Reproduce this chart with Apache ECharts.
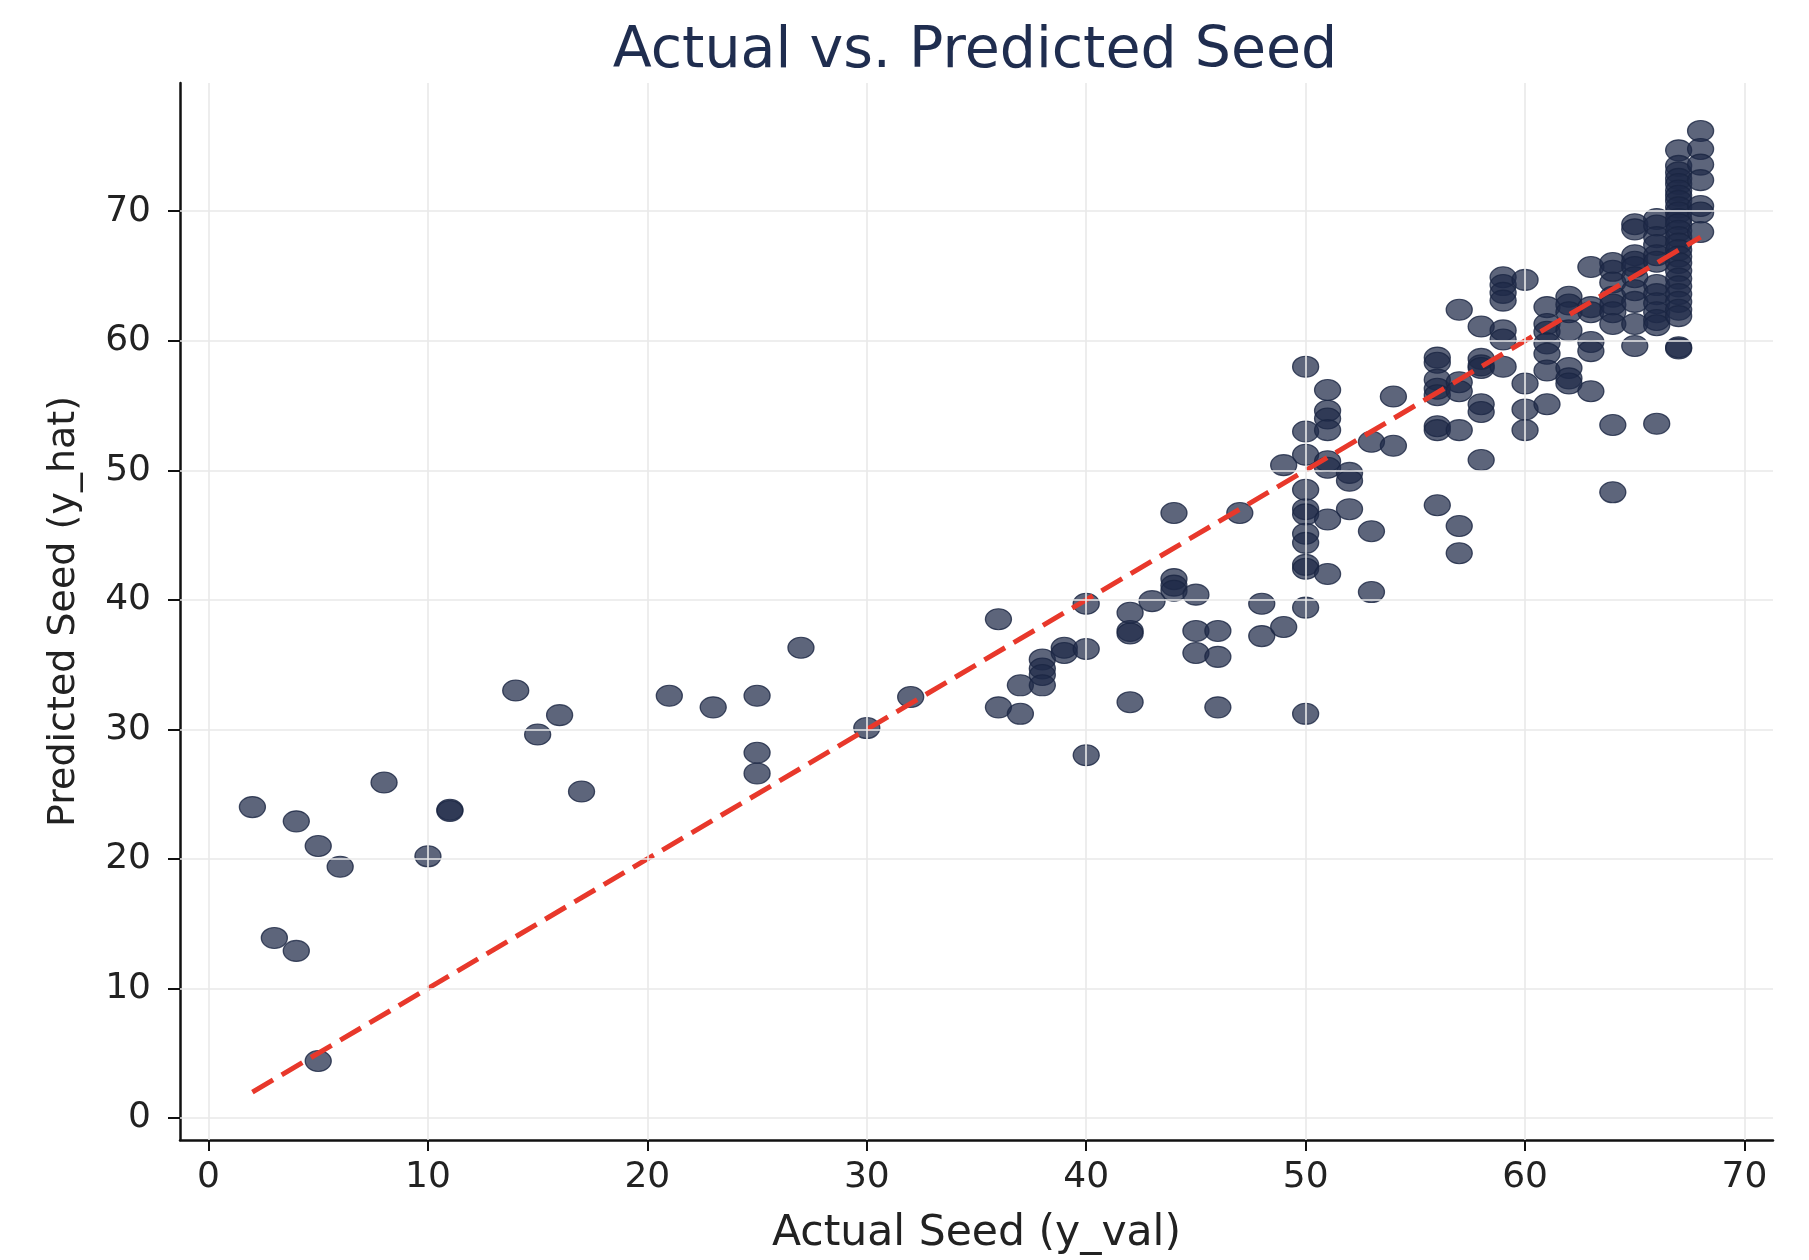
<!DOCTYPE html>
<html>
<head>
<meta charset="utf-8">
<script src="https://cdn.jsdelivr.net/npm/echarts@6/dist/echarts.min.js"></script>
<style>html,body{margin:0;padding:0;background:#fff;}#c{width:1809px;height:1260px;}</style>
</head>
<body>
<div id="c"></div>
<script>
// Actual seed (x) values, one per point
const actualVals = [
  2,3,4,4,5,5,6,8,10,11,11,14,15,16,17,21,23,25,25,25,27,30,32,
  36,36,37,37,38,38,38,38,39,39,40,40,40,42,42,42,42,43,44,44,44,44,45,45,45,46,46,46,47,48,48,49,49,
  50,50,50,50,50,50,50,50,50,50,50,50,
  51,51,51,51,51,51,51,51,
  52,52,52,
  53,53,53,
  54,54,
  56,56,56,56,56,56,56,56,
  57,57,57,57,57,57,
  58,58,58,58,58,58,58,
  59,59,59,59,59,59,59,
  60,60,60,60,
  61,61,61,61,61,61,61,
  62,62,62,62,62,62,62,
  63,63,63,63,63,63,
  64,64,64,64,64,64,64,64,64,
  65,65,65,65,65,65,65,65,65,65,
  66,66,66,66,66,66,66,66,66,66,66,66,66,
  67,67,67,67,67,67,67,67,67,67,67,67,67,67,67,67,67,67,67,67,67,67,67,67,67,67,67,
  68,68,68,68,68,68,68
];
// Predicted seed (y) values, same order
const predictedVals = [
  24.0,13.9,22.9,12.9,21.0,4.4,19.4,25.9,20.2,23.8,23.7,33.0,29.6,31.1,25.2,32.6,31.7,32.6,28.2,26.6,36.3,30.1,32.5,
  38.5,31.7,33.4,31.2,35.4,34.7,34.2,33.4,36.3,35.9,39.7,36.2,28.0,39.0,37.6,37.4,32.1,39.9,46.7,41.6,41.1,40.7,40.4,37.6,35.9,37.6,35.6,31.7,46.7,39.7,37.2,50.4,37.9,
  58.0,53.0,51.2,48.5,47.0,46.6,45.1,44.4,42.7,42.4,39.4,31.2,
  56.2,54.6,54.0,53.1,50.7,50.2,46.2,42.0,
  49.8,49.2,47.0,
  52.2,45.3,40.6,
  55.7,51.9,
  58.7,58.3,57.0,56.3,55.8,53.4,53.1,47.3,
  62.4,56.8,56.1,53.1,45.7,43.6,
  61.1,58.6,58.1,57.9,55.1,54.5,50.8,
  64.9,64.3,63.7,63.1,60.8,60.1,58.0,
  64.7,56.7,54.7,53.1,
  62.6,61.3,60.7,59.8,59.0,57.7,55.1,
  63.4,62.8,62.2,60.8,57.9,57.1,56.7,
  65.7,62.6,62.2,59.9,59.2,56.1,
  66.0,65.4,64.5,63.4,62.8,62.2,61.3,53.5,48.3,
  69.0,68.6,66.6,66.1,65.7,64.9,63.9,63.0,61.3,59.6,
  69.4,68.9,68.0,67.4,66.6,66.1,64.3,63.6,62.9,62.2,61.6,61.2,53.6,
  74.7,73.5,73.0,72.5,72.1,71.6,71.2,70.8,70.3,69.9,69.4,69.0,68.5,68.0,67.5,67.0,66.5,66.0,65.4,64.8,64.2,63.6,63.0,62.4,61.9,59.5,59.4,
  76.2,74.8,73.6,72.4,70.4,69.9,68.4
];
// Reference (perfect prediction) line endpoints
const refLine = [2, 68];
// Tick labels
const xTicks = [0, 10, 20, 30, 40, 50, 60, 70];
const yTicks = [0, 10, 20, 30, 40, 50, 60, 70];

const titleText = 'Actual vs. Predicted Seed';
const xName = 'Actual Seed (y_val)';
const yName = 'Predicted Seed (y_hat)';

const points = actualVals.map((a, i) => [a, predictedVals[i]]);
const linePts = refLine.map(v => [v, v]);

const FONT = 'DejaVu Sans';
const chart = echarts.init(document.getElementById('c'), null, {renderer: 'canvas'});
chart.setOption({
  animation: false,
  backgroundColor: '#ffffff',
  title: {
    text: titleText,
    left: 970,
    top: 19,
    textAlign: 'center',
    textStyle: {fontFamily: FONT, fontSize: 57, fontWeight: 'normal', color: '#1f2d4f'}
  },
  grid: {left: 180, right: 36, top: 83, bottom: 119},
  xAxis: {
    type: 'value',
    min: -1.3, max: 71.3,
    name: xName,
    nameLocation: 'middle',
    nameGap: 72,
    nameTextStyle: {fontFamily: FONT, fontSize: 42.5, color: '#222'},
    axisLine: {show: true, onZero: false, lineStyle: {color: '#111', width: 2.5}},
    axisTick: {show: true, customValues: xTicks, length: 11, lineStyle: {color: '#111', width: 2}},
    axisLabel: {customValues: xTicks, fontFamily: FONT, fontSize: 36, color: '#222', margin: 20},
    splitLine: {show: false}
  },
  yAxis: {
    type: 'value',
    min: -1.7, max: 79.9,
    name: yName,
    nameLocation: 'middle',
    nameGap: 97,
    nameTextStyle: {fontFamily: FONT, fontSize: 38, color: '#222'},
    axisLine: {show: true, onZero: false, lineStyle: {color: '#111', width: 2.5}},
    axisTick: {show: true, customValues: yTicks, length: 12, lineStyle: {color: '#111', width: 2}},
    axisLabel: {customValues: yTicks, fontFamily: FONT, fontSize: 36, color: '#222', margin: 29},
    splitLine: {show: false}
  },
  series: [
    {
      type: 'line',
      z: 1,
      data: [],
      silent: true,
      markLine: {
        silent: true,
        symbol: ['none', 'none'],
        label: {show: false},
        lineStyle: {color: '#e9e9e9', width: 1.6, type: 'solid'},
        data: xTicks.map(v => ({xAxis: v})).concat(yTicks.map(v => ({yAxis: v})))
      }
    },
    {
      type: 'scatter',
      z: 2,
      data: points,
      symbol: 'circle',
      symbolSize: [26, 21],
      itemStyle: {color: 'rgba(30,42,72,0.72)', borderColor: 'rgba(26,38,66,0.8)', borderWidth: 1.2, opacity: 1}
    },
    {
      type: 'line',
      z: 3,
      data: linePts,
      symbol: 'none',
      lineStyle: {color: '#e8382b', width: 5, type: [24, 10]}
    }
  ]
});
</script>
</body>
</html>
